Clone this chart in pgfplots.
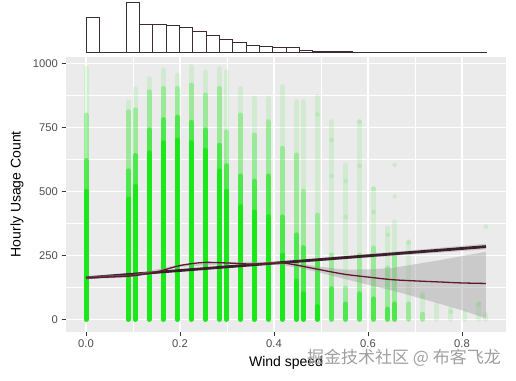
\documentclass[border=0pt]{standalone}
\usepackage{pgfplots}
\pgfplotsset{compat=1.18}
\usepackage{pgfplotstable}
\usepackage{fontspec}
\setmainfont{Liberation Sans}
\newfontfamily\cjk{Noto Sans CJK SC}
\definecolor{panel}{HTML}{EBEBEB}
\definecolor{ptc}{RGB}{25,232,25}
\definecolor{fitc}{RGB}{62,30,45}
\definecolor{loessc}{RGB}{95,25,45}
\definecolor{histc}{RGB}{62,42,52}
\definecolor{tickc}{HTML}{4D4D4D}
\definecolor{bandc}{HTML}{999999}

\pgfplotstableread{
x solid strong faded faint
0.0000 500 620 798 980
0.0896 470 580 811 850
0.1045 520 640 818 900
0.1343 650 740 889 940
0.1642 690 780 902 974
0.1940 700 790 902 954
0.2239 690 770 915 987
0.2537 660 740 876 966
0.2836 580 680 902 980
0.2985 500 600 733 967
0.3284 440 560 798 902
0.3582 420 540 720 863
0.3881 400 560 772 863
0.4179 250 400 668 909
0.4478 150 330 642 850
0.4627 100 280 500 850
0.4925 50 220 407 870
0.5224 nan 120 251 772
0.5522 nan 60 122 603
0.5821 nan 100 251 772
0.6119 nan 80 279 510
0.6418 nan 40 200 357
0.6567 nan 60 250 381
0.6866 nan nan 60 303
0.7164 nan nan 20 100
0.7463 nan nan nan 60
0.7761 nan nan nan 40
0.8060 nan nan nan 30
0.8358 nan nan nan 60
0.8507 nan nan nan 20
}\stripes

\pgfplotstableread{
x count
0.0000 2180
0.0284 0
0.0567 0
0.0851 3082
0.1135 1726
0.1418 1710
0.1702 1670
0.1986 1520
0.2269 1295
0.2553 1048
0.2837 808
0.3120 602
0.3404 440
0.3688 370
0.3971 310
0.4255 300
0.4539 130
0.4822 60
0.5106 40
0.5390 30
0.5673 20
0.5957 15
0.6241 10
0.6524 8
0.6808 5
0.7092 3
0.7375 3
0.7659 2
0.7943 2
0.8226 3
0.8510 3
}\histdata

\begin{document}
\begin{tikzpicture}
\useasboundingbox (0,0) rectangle (516pt,380pt);
% histogram (marginal)
\begin{axis}[
  at={(66pt,327.7pt)}, anchor=south west,
  scale only axis, width=440pt, height=52.3pt,
  xmin=-0.0426, xmax=0.8936, ymin=0, ymax=3224,
  hide axis, clip=false]
\addplot[ybar interval, fill=white, draw=histc, line width=0.8pt] table[x=x,y=count]{\histdata};
\end{axis}
% main scatter
\begin{axis}[
  at={(66pt,48.2pt)}, anchor=south west,
  scale only axis, width=440pt, height=275.1pt,
  xmin=-0.0426, xmax=0.8936, ymin=-48.85, ymax=1025.85,
  axis background/.style={fill=panel},
  axis line style={draw=none},
  tick pos=left, tick align=outside,
  major tick length=3.7pt, minor tick length=0pt,
  tick style={draw=black!80, line width=0.8pt},
  xtick={0,0.2,0.4,0.6,0.8}, xticklabels={0.0,0.2,0.4,0.6,0.8},
  ytick={0,250,500,750,1000}, yticklabels={0,250,500,750,1000},
  minor xtick={0.1,0.3,0.5,0.7}, minor ytick={125,375,625,875},
  grid=both,
  major grid style={white, line width=1.1pt},
  minor grid style={white, line width=0.55pt},
  ticklabel style={font=\fontsize{11.2}{13}\selectfont, text=tickc},
  xticklabel style={yshift=-1pt},
  yticklabel style={xshift=-1pt},
  xlabel={Wind speed}, ylabel={Hourly Usage Count},
  label style={font=\fontsize{14}{16}\selectfont, text=black},
  xlabel style={at={(axis description cs:0.5,-0.1123)}, anchor=center},
  ylabel style={at={(axis description cs:-0.1114,0.5)}, anchor=center, rotate=0},
  unbounded coords=discard]
\addplot[ycomb, draw=ptc, line width=5pt, line cap=round, opacity=0.12] table[x=x,y=faint]{\stripes};
\addplot[ycomb, draw=ptc, line width=5pt, line cap=round, opacity=0.3] table[x=x,y=faded]{\stripes};
\addplot[ycomb, draw=ptc, line width=5pt, line cap=round, opacity=0.6] table[x=x,y=strong]{\stripes};
\addplot[ycomb, draw=ptc, line width=5pt, line cap=round] table[x=x,y=solid]{\stripes};
\addplot[only marks, mark=*, mark size=2.3pt, mark options={draw opacity=0, fill=ptc, fill opacity=0.14}] coordinates {
(0.5821,772) (0.5821,600) (0.6567,603) (0.6567,480) (0.6119,510) (0.6119,420)
(0.8507,362) (0.6866,300) (0.6418,330) (0.5522,540) (0.5224,700) (0.7164,90)
(0.7761,30) (0.8358,60) (0.5522,400) (0.4925,800) (0.5224,560)};
% linear fit band and line
\addplot[draw=none, fill=bandc, fill opacity=0.4] coordinates {
(0,157) (0.2,187.2) (0.4,215.4) (0.6,241) (0.851,273)
(0.851,295) (0.6,255) (0.4,223.4) (0.2,194.2) (0,167)};
\addplot[fitc, line width=2.8pt] coordinates {(0,162) (0.851,284)};
% loess band and line
\addplot[draw=none, fill=bandc, fill opacity=0.4] coordinates {
(0,157) (0.1,165) (0.2,205) (0.3,215) (0.4,214) (0.45,203) (0.5,181)
(0.55,158) (0.6,135) (0.65,113) (0.7,88) (0.75,62) (0.8,35) (0.851,4)
(0.851,264) (0.8,247) (0.75,230) (0.7,215) (0.65,200) (0.6,195) (0.55,194)
(0.5,205) (0.45,219) (0.4,224) (0.3,224) (0.2,215) (0.1,175) (0,169)};
\addplot[loessc, line width=1.3pt, smooth] coordinates {
(0,163) (0.05,165) (0.1,170) (0.15,185) (0.2,210) (0.25,222) (0.3,220)
(0.35,216) (0.4,219) (0.42,220) (0.45,211) (0.5,193) (0.55,176) (0.6,165)
(0.65,155) (0.7,150) (0.75,146) (0.8,142) (0.851,140)};
\end{axis}
\node[anchor=center, text=gray!75, font=\cjk\fontsize{17}{19}\selectfont] at (404pt,22pt) {掘金技术社区 @ 布客飞龙};
\end{tikzpicture}
\end{document}
